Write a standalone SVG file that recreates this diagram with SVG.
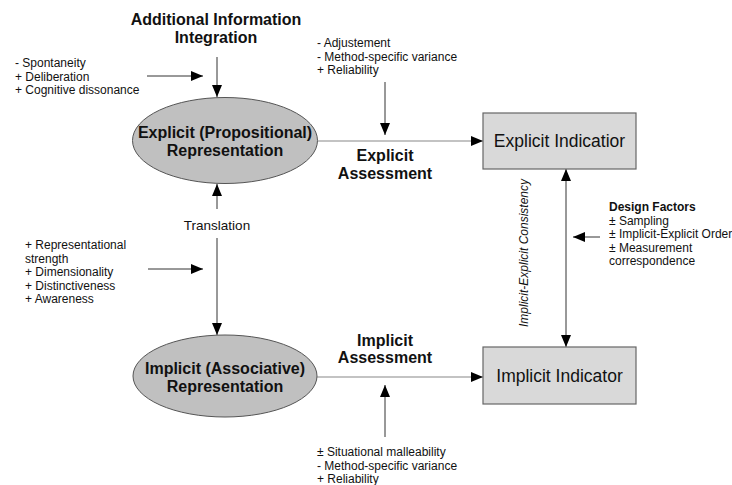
<svg xmlns="http://www.w3.org/2000/svg" width="732" height="485" viewBox="0 0 732 485">
<style>
text{font-family:"Liberation Sans",Arial,sans-serif;fill:#111}
.b{font-weight:bold;font-size:16px}
.s{font-size:12px}
.sb{font-size:12px;font-weight:bold}
.box{font-size:17.5px}
.ell{fill:#c0c0c0;stroke:#555;stroke-width:1}
.rect{fill:#d9d9d9;stroke:#666;stroke-width:1.2}
.c{stroke:#333;stroke-width:1;fill:none}
.g{stroke:#888;stroke-width:1.2;fill:none}
</style>
<defs>
<marker id="arr" viewBox="0 0 12 10" refX="12" refY="5" markerWidth="12" markerHeight="10" markerUnits="userSpaceOnUse" orient="auto-start-reverse">
<path d="M0,0 L12,5 L0,10 z" fill="#000"/>
</marker>
</defs>
<g id="connectors">
<line class="c" x1="217" y1="57" x2="217" y2="97" marker-end="url(#arr)"/>
<line class="c" x1="147" y1="76" x2="203" y2="76" marker-end="url(#arr)"/>
<line class="g" x1="318" y1="141" x2="483" y2="141" marker-end="url(#arr)"/>
<line class="c" x1="385" y1="82" x2="385" y2="135" marker-end="url(#arr)"/>
<line class="c" x1="217" y1="209" x2="217" y2="184" marker-end="url(#arr)"/>
<line class="c" x1="217" y1="238" x2="217" y2="335" marker-end="url(#arr)"/>
<line class="c" x1="148" y1="269" x2="203" y2="269" marker-end="url(#arr)"/>
<line class="g" x1="317" y1="377" x2="483" y2="377" marker-end="url(#arr)"/>
<line class="c" x1="385" y1="437" x2="385" y2="385" marker-end="url(#arr)"/>
<line class="c" x1="566" y1="169" x2="566" y2="347" marker-start="url(#arr)" marker-end="url(#arr)"/>
<line class="c" x1="600" y1="237" x2="573" y2="237" marker-end="url(#arr)"/>
</g>
<g id="explicit-representation">
<ellipse class="ell" cx="225" cy="140.5" rx="92.5" ry="43"/>
<text class="b" x="225" y="138" text-anchor="middle">Explicit (Propositional)</text>
<text class="b" x="225" y="156" text-anchor="middle">Representation</text>
</g>
<g id="implicit-representation">
<ellipse class="ell" cx="225" cy="376" rx="92" ry="41"/>
<text class="b" x="225" y="374" text-anchor="middle">Implicit (Associative)</text>
<text class="b" x="225" y="392" text-anchor="middle">Representation</text>
</g>
<g id="explicit-indicator">
<rect class="rect" x="483" y="113" width="153" height="56"/>
<text class="box" x="559.5" y="147" text-anchor="middle">Explicit Indicatior</text>
</g>
<g id="implicit-indicator">
<rect class="rect" x="483" y="347" width="153" height="57"/>
<text class="box" x="559.5" y="381.5" text-anchor="middle">Implicit Indicator</text>
</g>
<g id="additional-info">
<text class="b" x="216" y="25" text-anchor="middle">Additional Information</text>
<text class="b" x="216" y="43" text-anchor="middle">Integration</text>
</g>
<g id="explicit-factors">
<text class="s" x="15" y="67">- Spontaneity</text>
<text class="s" x="15" y="80.5">+ Deliberation</text>
<text class="s" x="15" y="94">+ Cognitive dissonance</text>
</g>
<g id="explicit-assessment-factors">
<text class="s" x="317" y="47">- Adjustement</text>
<text class="s" x="317" y="60.5">- Method-specific variance</text>
<text class="s" x="317" y="74">+ Reliability</text>
</g>
<g id="explicit-assessment">
<text class="b" x="385" y="161" text-anchor="middle">Explicit</text>
<text class="b" x="385" y="179" text-anchor="middle">Assessment</text>
</g>
<g id="translation">
<text x="217" y="230" text-anchor="middle" font-size="13.5">Translation</text>
</g>
<g id="translation-factors">
<text class="s" x="25" y="249">+ Representational</text>
<text class="s" x="25" y="262.5">strength</text>
<text class="s" x="25" y="276">+ Dimensionality</text>
<text class="s" x="25" y="289.5">+ Distinctiveness</text>
<text class="s" x="25" y="303">+ Awareness</text>
</g>
<g id="implicit-assessment">
<text class="b" x="385" y="346" text-anchor="middle">Implicit</text>
<text class="b" x="385" y="363" text-anchor="middle">Assessment</text>
</g>
<g id="implicit-assessment-factors">
<text class="s" x="317" y="456">± Situational malleability</text>
<text class="s" x="317" y="469.5">- Method-specific variance</text>
<text class="s" x="317" y="482.5">+ Reliability</text>
</g>
<g id="consistency">
<text class="s" font-style="italic" transform="translate(528,253) rotate(-90)" text-anchor="middle">Implicit-Explicit Consistency</text>
</g>
<g id="design-factors">
<text class="sb" x="609" y="211">Design Factors</text>
<text class="s" x="609" y="224.5">± Sampling</text>
<text class="s" x="609" y="238">± Implicit-Explicit Order</text>
<text class="s" x="609" y="251.5">± Measurement</text>
<text class="s" x="609" y="265">correspondence</text>
</g>
</svg>
